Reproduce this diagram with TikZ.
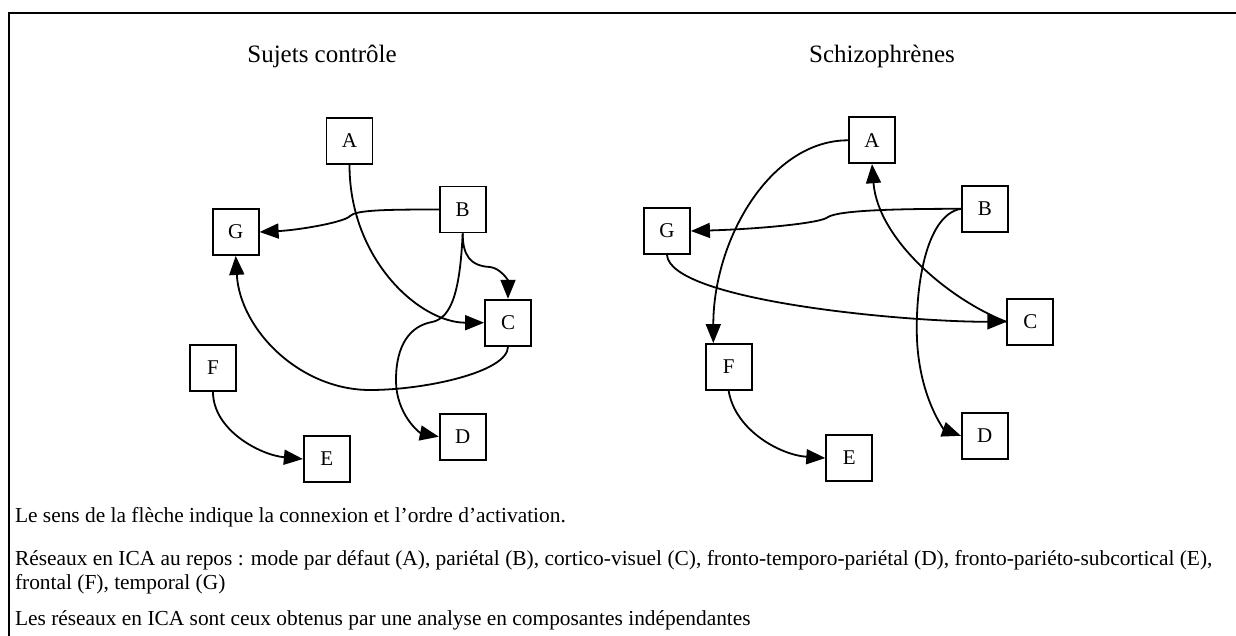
\documentclass[tikz,border=0pt]{standalone}
\usepackage{fontspec}
\setmainfont{Liberation Serif}
\usetikzlibrary{arrows.meta}

\begin{document}
\begin{tikzpicture}[x=1pt,y=-1pt,line cap=rect]
	\tikzset{
		netbox/.style={draw, line width=1.8pt, minimum width=46pt, minimum height=46pt, inner sep=0, font=\fontsize{21pt}{21pt}\selectfont},
		link/.style={line width=1.8pt, line cap=butt, -{Triangle[length=19pt,width=15pt]}},
		grouptitle/.style={inner sep=0, outer sep=0, anchor=base, font=\fontsize{25pt}{25pt}\selectfont},
		legendline/.style={inner sep=0, outer sep=0, anchor=base west, font=\fontsize{21.4pt}{24pt}\selectfont}
	}
	\useasboundingbox (0,0) rectangle (1236,635);
	% frame
	\coordinate (frameNW) at (9,13);
	\draw [line width=2.0pt] (frameNW -| 1236,0) -- (frameNW) -- (frameNW |- 0,635);
	% titles
	\node[grouptitle] (titleCtrl) at (322.0,62.0) {Sujets contrôle};
	\node[grouptitle] (titleSchz) at (882.0,62.0) {Schizophrènes};
	% controls
	\node[netbox] (cA) at (349.5,141.0) {A};
	\node[netbox] (cB) at (462.7,209.5) {B};
	\node[netbox] (cC) at (508.0,322.7) {C};
	\node[netbox] (cD) at (462.7,436.7) {D};
	\node[netbox] (cE) at (326.8,459.0) {E};
	\node[netbox] (cF) at (213.0,368.0) {F};
	\node[netbox] (cG) at (235.7,232.0) {G};
	\draw [link] (cA.south) .. controls (349.5,260.0) and (420.0,322.7) .. (cC.west);
	\draw [link] (cB.west) .. controls (385.0,209.5) and (356.0,210.0) .. (350.0,216.0) .. controls (345.0,222.0) and (300.0,230.0) .. (cG.east);
	\draw [link] (cB.south) .. controls (462.7,255.0) and (470.0,266.0) .. (490.0,267.0) .. controls (500.0,268.0) and (508.0,280.0) .. (cC.north);
	\draw [link] (cB.south) .. controls (460.0,290.0) and (452.0,318.0) .. (432.0,322.0) .. controls (410.0,326.0) and (396.0,345.0) .. (396.0,380.0) .. controls (396.0,415.0) and (420.0,433.0) .. (cD.west);
	\draw [link] (cC.south) .. controls (508.0,372.0) and (425.0,390.0) .. (370.0,390.0) .. controls (300.0,390.0) and (240.0,330.0) .. (cG.south);
	\draw [link] (cF.south) .. controls (213.0,430.0) and (260.0,455.0) .. (cE.west);
	% patients
	\node[netbox] (sA) at (872.0,140.3) {A};
	\node[netbox] (sB) at (984.8,208.8) {B};
	\node[netbox] (sC) at (1030.3,321.8) {C};
	\node[netbox] (sD) at (984.8,435.8) {D};
	\node[netbox] (sE) at (849.2,458.0) {E};
	\node[netbox] (sF) at (728.7,367.0) {F};
	\node[netbox] (sG) at (667.0,231.0) {G};
	\draw [link] (sA.west) .. controls (770.0,140.3) and (713.3,240.0) .. ([xshift=-15.4pt]sF.north);
	\draw [link] (sC.west) .. controls (950.0,300.0) and (878.0,240.0) .. (sA.south);
	\draw [link] (sB.west) .. controls (900.0,208.8) and (840.0,210.0) .. (828.0,217.0) .. controls (822.0,223.0) and (760.0,229.0) .. (sG.east);
	\draw [link] (sB.west) .. controls (925.0,215.0) and (915.0,290.0) .. (917.0,340.0) .. controls (920.0,400.0) and (945.0,430.0) .. (sD.west);
	\draw [link] (sG.south) .. controls (670.0,300.0) and (900.0,321.8) .. (sC.west);
	\draw [link] (sF.south) .. controls (735.0,430.0) and (780.0,455.0) .. (sE.west);
	% legend
	\node[legendline] (legArrow) at (15.0,522.0) {Le sens de la flèche indique la connexion et l'ordre d'activation.};
	\node[legendline] (legNetA) at (15.0,565.0) {Réseaux en ICA au repos : mode par défaut (A), pariétal (B), cortico-visuel (C), fronto-temporo-pariétal (D), fronto-pariéto-subcortical (E),};
	\node[legendline] (legNetB) at (15.0,589.0) {frontal (F), temporal (G)};
	\node[legendline] (legICA) at (15.0,625.0) {Les réseaux en ICA sont ceux obtenus par une analyse en composantes indépendantes};
\end{tikzpicture}
\end{document}
